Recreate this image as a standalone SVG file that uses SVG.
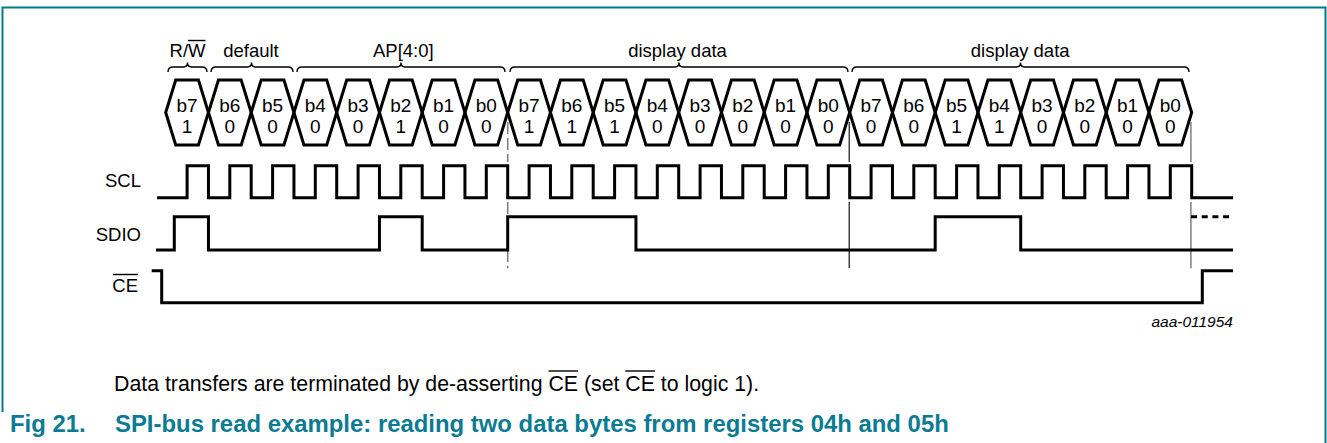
<svg xmlns="http://www.w3.org/2000/svg" width="1327" height="443" viewBox="0 0 1327 443">
<defs>
<style>
.lbl{font-family:"Liberation Sans",Arial,sans-serif;font-size:18.5px;fill:#000}
.bit{font-family:"Liberation Sans",Arial,sans-serif;font-size:19px;fill:#000;text-anchor:middle}
.hex{fill:none;stroke:#000;stroke-width:3;stroke-linejoin:miter}
.wave{fill:none;stroke:#000;stroke-width:3;stroke-linejoin:miter;stroke-linecap:butt}
.brace{fill:none;stroke:#000;stroke-width:1.4}
.ovl{stroke:#000;stroke-width:1.4}
.body{font-family:"Liberation Sans",Arial,sans-serif;font-size:21.3px;fill:#000}
.cap{font-family:"Liberation Sans",Arial,sans-serif;font-size:23.9px;font-weight:bold;fill:#0b7b93}
</style>
</defs>
<rect width="1327" height="443" fill="#fff"/>
<path d="M2.5,412 V7.5 H1325.5 V443" fill="none" stroke="#007a8e" stroke-width="2"/>

<g id="field-labels">
<g id="brace-rw"><path class="brace" d="M168,72 Q168,67 173,67 H183.5 Q187.5,67 187.5,62.5 Q187.5,67 191.5,67 H202 Q207,67 207,72"/>
<text class="lbl" x="187.5" y="57" text-anchor="middle">R/W</text><line class="ovl" x1="188" y1="40.5" x2="205.5" y2="40.5"/></g>
<g id="brace-default"><path class="brace" d="M211,72 Q211,67 216,67 H247.5 Q251.5,67 251.5,62.5 Q251.5,67 255.5,67 H288 Q293,67 293,72"/>
<text class="lbl" x="251" y="57" text-anchor="middle">default</text></g>
<g id="brace-ap"><path class="brace" d="M297,72 Q297,67 302,67 H397 Q401,67 401,62.5 Q401,67 405,67 H500 Q505,67 505,72"/>
<text class="lbl" x="403.3" y="57" text-anchor="middle">AP[4:0]</text></g>
<g id="brace-data1"><path class="brace" d="M510,72 Q510,67 515,67 H675 Q679,67 679,62.5 Q679,67 683,67 H843 Q848,67 848,72"/>
<text class="lbl" x="677.5" y="57" text-anchor="middle">display data</text></g>
<g id="brace-data2"><path class="brace" d="M852,72 Q852,67 857,67 H1016.5 Q1020.5,67 1020.5,62.5 Q1020.5,67 1024.5,67 H1184 Q1189,67 1189,72"/>
<text class="lbl" x="1020.2" y="57" text-anchor="middle">display data</text></g>
</g>

<g id="bits">
<g id="bit0"><polygon class="hex" points="165.7,112.5 175.7,80 198.45,80 208.45,112.5 198.45,145 175.7,145"/><text class="bit" x="187.1" y="111.5">b7</text><text class="bit" x="187.1" y="133.3">1</text></g>
<g id="bit1"><polygon class="hex" points="208.45,112.5 218.45,80 241.2,80 251.2,112.5 241.2,145 218.45,145"/><text class="bit" x="229.8" y="111.5">b6</text><text class="bit" x="229.8" y="133.3">0</text></g>
<g id="bit2"><polygon class="hex" points="251.2,112.5 261.2,80 283.95,80 293.95,112.5 283.95,145 261.2,145"/><text class="bit" x="272.6" y="111.5">b5</text><text class="bit" x="272.6" y="133.3">0</text></g>
<g id="bit3"><polygon class="hex" points="293.95,112.5 303.95,80 326.7,80 336.7,112.5 326.7,145 303.95,145"/><text class="bit" x="315.3" y="111.5">b4</text><text class="bit" x="315.3" y="133.3">0</text></g>
<g id="bit4"><polygon class="hex" points="336.7,112.5 346.7,80 369.45,80 379.45,112.5 369.45,145 346.7,145"/><text class="bit" x="358.1" y="111.5">b3</text><text class="bit" x="358.1" y="133.3">0</text></g>
<g id="bit5"><polygon class="hex" points="379.45,112.5 389.45,80 412.2,80 422.2,112.5 412.2,145 389.45,145"/><text class="bit" x="400.8" y="111.5">b2</text><text class="bit" x="400.8" y="133.3">1</text></g>
<g id="bit6"><polygon class="hex" points="422.2,112.5 432.2,80 454.95,80 464.95,112.5 454.95,145 432.2,145"/><text class="bit" x="443.6" y="111.5">b1</text><text class="bit" x="443.6" y="133.3">0</text></g>
<g id="bit7"><polygon class="hex" points="464.95,112.5 474.95,80 497.7,80 507.7,112.5 497.7,145 474.95,145"/><text class="bit" x="486.3" y="111.5">b0</text><text class="bit" x="486.3" y="133.3">0</text></g>
<g id="bit8"><polygon class="hex" points="507.7,112.5 517.7,80 540.45,80 550.45,112.5 540.45,145 517.7,145"/><text class="bit" x="529.1" y="111.5">b7</text><text class="bit" x="529.1" y="133.3">1</text></g>
<g id="bit9"><polygon class="hex" points="550.45,112.5 560.45,80 583.2,80 593.2,112.5 583.2,145 560.45,145"/><text class="bit" x="571.8" y="111.5">b6</text><text class="bit" x="571.8" y="133.3">1</text></g>
<g id="bit10"><polygon class="hex" points="593.2,112.5 603.2,80 625.95,80 635.95,112.5 625.95,145 603.2,145"/><text class="bit" x="614.6" y="111.5">b5</text><text class="bit" x="614.6" y="133.3">1</text></g>
<g id="bit11"><polygon class="hex" points="635.95,112.5 645.95,80 668.7,80 678.7,112.5 668.7,145 645.95,145"/><text class="bit" x="657.3" y="111.5">b4</text><text class="bit" x="657.3" y="133.3">0</text></g>
<g id="bit12"><polygon class="hex" points="678.7,112.5 688.7,80 711.45,80 721.45,112.5 711.45,145 688.7,145"/><text class="bit" x="700.1" y="111.5">b3</text><text class="bit" x="700.1" y="133.3">0</text></g>
<g id="bit13"><polygon class="hex" points="721.45,112.5 731.45,80 754.2,80 764.2,112.5 754.2,145 731.45,145"/><text class="bit" x="742.8" y="111.5">b2</text><text class="bit" x="742.8" y="133.3">0</text></g>
<g id="bit14"><polygon class="hex" points="764.2,112.5 774.2,80 796.95,80 806.95,112.5 796.95,145 774.2,145"/><text class="bit" x="785.6" y="111.5">b1</text><text class="bit" x="785.6" y="133.3">0</text></g>
<g id="bit15"><polygon class="hex" points="806.95,112.5 816.95,80 839.7,80 849.7,112.5 839.7,145 816.95,145"/><text class="bit" x="828.3" y="111.5">b0</text><text class="bit" x="828.3" y="133.3">0</text></g>
<g id="bit16"><polygon class="hex" points="849.7,112.5 859.7,80 882.45,80 892.45,112.5 882.45,145 859.7,145"/><text class="bit" x="871.1" y="111.5">b7</text><text class="bit" x="871.1" y="133.3">0</text></g>
<g id="bit17"><polygon class="hex" points="892.45,112.5 902.45,80 925.2,80 935.2,112.5 925.2,145 902.45,145"/><text class="bit" x="913.8" y="111.5">b6</text><text class="bit" x="913.8" y="133.3">0</text></g>
<g id="bit18"><polygon class="hex" points="935.2,112.5 945.2,80 967.95,80 977.95,112.5 967.95,145 945.2,145"/><text class="bit" x="956.6" y="111.5">b5</text><text class="bit" x="956.6" y="133.3">1</text></g>
<g id="bit19"><polygon class="hex" points="977.95,112.5 987.95,80 1010.7,80 1020.7,112.5 1010.7,145 987.95,145"/><text class="bit" x="999.3" y="111.5">b4</text><text class="bit" x="999.3" y="133.3">1</text></g>
<g id="bit20"><polygon class="hex" points="1020.7,112.5 1030.7,80 1053.45,80 1063.45,112.5 1053.45,145 1030.7,145"/><text class="bit" x="1042.1" y="111.5">b3</text><text class="bit" x="1042.1" y="133.3">0</text></g>
<g id="bit21"><polygon class="hex" points="1063.45,112.5 1073.45,80 1096.2,80 1106.2,112.5 1096.2,145 1073.45,145"/><text class="bit" x="1084.8" y="111.5">b2</text><text class="bit" x="1084.8" y="133.3">0</text></g>
<g id="bit22"><polygon class="hex" points="1106.2,112.5 1116.2,80 1138.95,80 1148.95,112.5 1138.95,145 1116.2,145"/><text class="bit" x="1127.6" y="111.5">b1</text><text class="bit" x="1127.6" y="133.3">0</text></g>
<g id="bit23"><polygon class="hex" points="1148.95,112.5 1158.95,80 1181.7,80 1191.7,112.5 1181.7,145 1158.95,145"/><text class="bit" x="1170.3" y="111.5">b0</text><text class="bit" x="1170.3" y="133.3">0</text></g>
</g>

<g id="markers">
<path d="M507.7,122 V162 M507.7,202 V268.3" fill="none" stroke="#7a7a7a" stroke-width="1.5" stroke-dasharray="12 4"/>
<path d="M849.2,122 V162 M849.2,202 V268.3" fill="none" stroke="#000" stroke-width="1.1"/>
<path d="M1190.9,122 V162 M1190.9,202 V268.3" fill="none" stroke="#808080" stroke-width="1.5"/>
</g>

<g id="signals">
<g id="scl">
<text class="lbl" x="141" y="187.3" text-anchor="end">SCL</text>
<path class="wave" d="M157,197.7 H187.1 V165.7 H208.45 V197.7 H229.8 V165.7 H251.2 V197.7 H272.6 V165.7 H293.95 V197.7 H315.3 V165.7 H336.7 V197.7 H358.1 V165.7 H379.45 V197.7 H400.8 V165.7 H422.2 V197.7 H443.6 V165.7 H464.95 V197.7 H486.3 V165.7 H507.7 V197.7 H529.1 V165.7 H550.45 V197.7 H571.8 V165.7 H593.2 V197.7 H614.6 V165.7 H635.95 V197.7 H657.3 V165.7 H678.7 V197.7 H700.1 V165.7 H721.45 V197.7 H742.8 V165.7 H764.2 V197.7 H785.6 V165.7 H806.95 V197.7 H828.3 V165.7 H849.7 V197.7 H871.1 V165.7 H892.45 V197.7 H913.8 V165.7 H935.2 V197.7 H956.6 V165.7 H977.95 V197.7 H999.3 V165.7 H1020.7 V197.7 H1042.1 V165.7 H1063.45 V197.7 H1084.8 V165.7 H1106.2 V197.7 H1127.6 V165.7 H1148.95 V197.7 H1170.3 V165.7 H1191.7 V197.7 H1233"/>
</g>
<g id="sdio">
<text class="lbl" x="141" y="240.7" text-anchor="end">SDIO</text>
<path class="wave" d="M156,250 H174.3 V216.7 H208.45 V250 H379.45 V216.7 H422.2 V250 H507.7 V216.7 H635.95 V250 H935.2 V216.7 H1020.7 V250 H1233"/>
<path d="M1191,216.7 H1229" fill="none" stroke="#000" stroke-width="3" stroke-dasharray="6 4.7"/>
</g>
<g id="ce">
<text class="lbl" x="138" y="291.7" text-anchor="end">CE</text>
<line class="ovl" x1="113" y1="274.5" x2="138" y2="274.5"/>
<path class="wave" d="M151.7,270.7 H161.7 V302.7 H1202.3 V270.7 H1233"/>
</g>
</g>

<text x="1233" y="326.7" text-anchor="end" font-family="Liberation Sans, Arial, sans-serif" font-size="15.5" font-style="italic" fill="#000">aaa-011954</text>

<g id="note">
<text class="body" x="114" y="391">Data transfers are terminated by de-asserting CE (set CE to logic 1).</text>
<line class="ovl" x1="548.5" y1="371" x2="578" y2="371"/>
<line class="ovl" x1="625.3" y1="371" x2="654.9" y2="371"/>
</g>
<g id="caption">
<text class="cap" x="10" y="431.5">Fig 21.</text>
<text class="cap" x="115" y="431.5">SPI-bus read example: reading two data bytes from registers 04h and 05h</text>
</g>
</svg>
